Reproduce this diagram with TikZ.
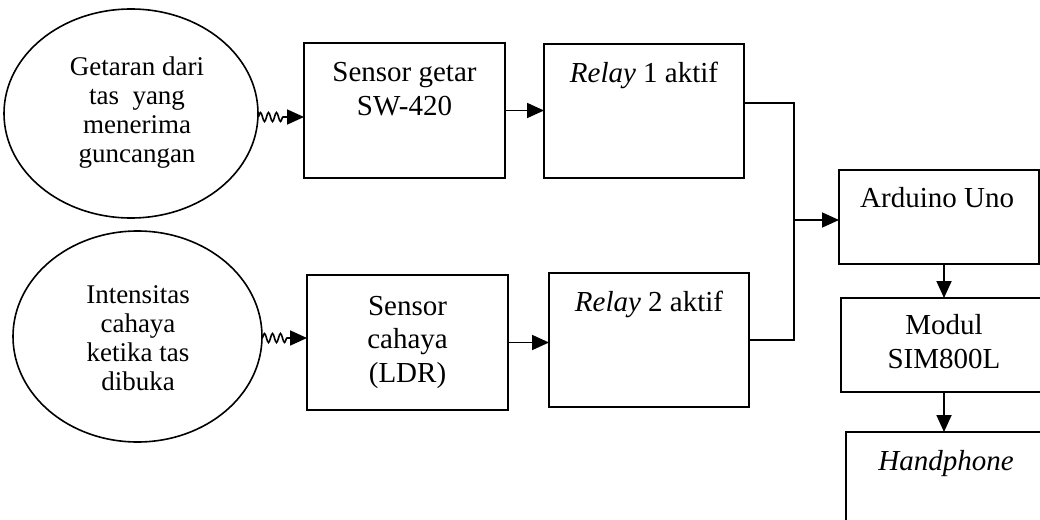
\documentclass[tikz,border=0pt]{standalone}
\usepackage{fontspec}
\setmainfont{Liberation Serif}
\usetikzlibrary{arrows.meta,shapes.geometric,decorations.pathmorphing}
\begin{document}
\begin{tikzpicture}[x=1pt,y=-1pt,
  box/.style={draw,line width=1.8pt,inner sep=0pt,outer sep=0pt},
  oval/.style={draw,ellipse,line width=1.6pt,inner sep=0pt,outer sep=0pt},
  btxt/.style={font=\fontsize{29pt}{33.5pt}\selectfont,align=center,anchor=base,inner sep=0pt},
  etxt/.style={font=\fontsize{27pt}{29pt}\selectfont,align=center,anchor=base,inner sep=0pt},
  arr/.style={line width=1.8pt,-{Triangle[length=17pt,width=15pt]}},
  wire/.style={line width=1.8pt},
  wavy/.style={line width=1.6pt,decorate,decoration={snake,amplitude=4.5pt,segment length=8pt}}]
\clip (0,0) rectangle (1040,519);
\useasboundingbox (0,0) rectangle (1040,519);
% ellipses
\node[oval,minimum width=254pt,minimum height=209pt] (e1) at (131,113.5) {};
\node[etxt] (t1) at (137,162) {Getaran dari\\tas\ \ yang\\menerima\\guncangan};
\node[oval,minimum width=249pt,minimum height=211pt] (e2) at (137.5,336.5) {};
\node[etxt] (t2) at (138,390) {Intensitas\\cahaya\\ketika tas\\dibuka};
% boxes
\node[box,minimum width=201pt,minimum height=135pt] (s1) at (404.5,110.5) {};
\node[btxt] (s1t) at (404.5,115) {Sensor getar\\SW-420};
\node[box,minimum width=200pt,minimum height=134pt] (r1) at (644,111) {};
\node[btxt] (r1t) at (644,82) {\textit{Relay} 1 aktif};
\node[box,minimum width=201pt,minimum height=135pt] (l1) at (407.5,342.5) {};
\node[btxt] (l1t) at (407.5,382) {Sensor\\cahaya\\(LDR)};
\node[box,minimum width=200pt,minimum height=134pt] (r2) at (649,340) {};
\node[btxt] (r2t) at (649,311) {\textit{Relay} 2 aktif};
\node[box,minimum width=200pt,minimum height=94pt] (ard) at (939,217) {};
\node[btxt,anchor=base west] (ardt) at (860,207) {Arduino Uno};
\node[box,minimum width=206pt,minimum height=94pt] (sim) at (944,345) {};
\node[btxt] (simt) at (944,368) {Modul\\SIM800L};
\node[box,minimum width=200pt,minimum height=128pt] (hp) at (946,496) {};
\node[btxt] (hpt) at (946,470) {\textit{Handphone}};
% connectors
\coordinate (w1) at (286,117);
\coordinate (w2) at (290,338);
\draw[wavy] (e1.east |- w1) -- (w1);
\draw[arr] (w1) -- (s1.west |- w1);
\draw[wavy] (e2.east |- w2) -- (w2);
\draw[arr] (w2) -- (l1.west |- w2);
\draw[arr] (s1.east) -- (r1.west |- s1.east);
\draw[arr] (l1.east) -- (r2.west |- l1.east);
\coordinate (jn) at (794,220);
\draw[wire] ([yshift=8pt]r1.east) -| (jn) |- (r2.east);
\draw[arr] (jn) -- (ard.west |- jn);
\draw[arr] (sim.north |- ard.south) -- (sim.north);
\draw[arr] (sim.south) -- (sim.south |- hp.north);
\end{tikzpicture}
\end{document}
